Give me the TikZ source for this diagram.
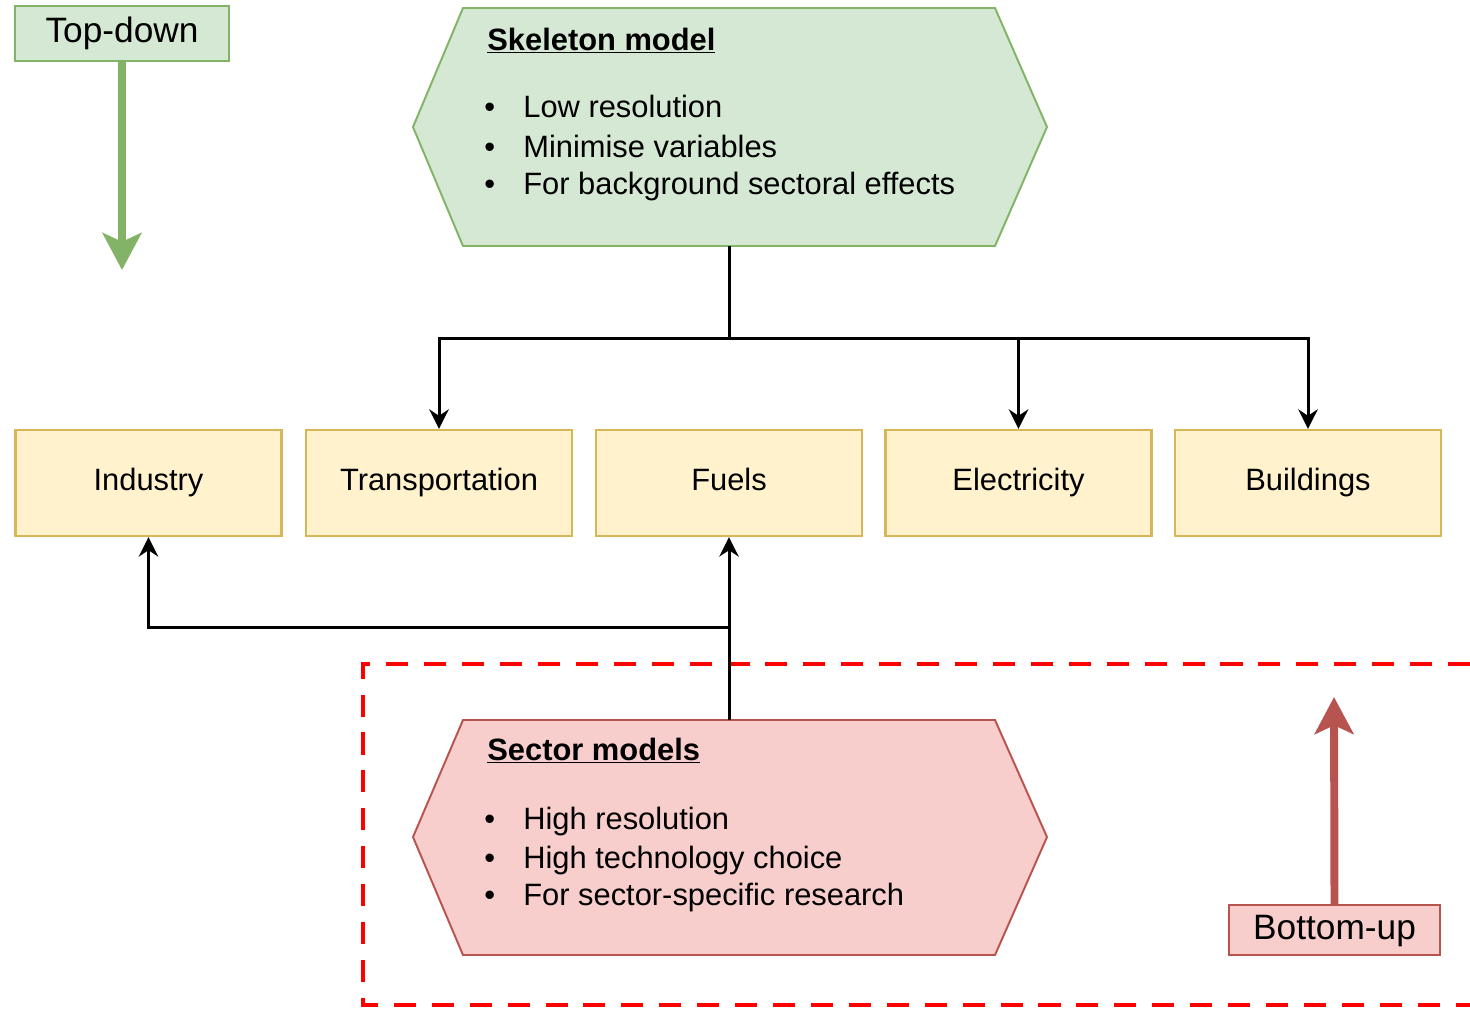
\documentclass[tikz,border=0pt]{standalone}
\usepackage{fontspec}
\setmainfont{Liberation Sans}
\usetikzlibrary{arrows.meta}
\definecolor{gfill}{HTML}{D5E8D4}
\definecolor{gstroke}{HTML}{82B366}
\definecolor{yfill}{HTML}{FFF2CC}
\definecolor{ystroke}{HTML}{D6B656}
\definecolor{rfill}{HTML}{F8CECC}
\definecolor{rstroke}{HTML}{B85450}
\definecolor{dashred}{HTML}{FF0000}
\begin{document}
\begin{tikzpicture}[x=0.567pt,y=-0.567pt,
  sector/.style={draw=ystroke,fill=yfill,line width=1.3pt,minimum width=150.8pt,minimum height=60.1pt,inner sep=0pt,text height=12.6pt,text depth=3.6pt,font=\fontsize{17.5}{21}\selectfont},
  tag/.style={line width=1.1pt,inner sep=0pt,text height=14.4pt,text depth=4.2pt,font=\fontsize{20}{24}\selectfont},
  hexg/.style={draw=gstroke,fill=gfill,line width=1.1pt},
  hexr/.style={draw=rstroke,fill=rfill,line width=1.1pt},
  txt/.style={anchor=base west,inner sep=0pt,font=\fontsize{17.5}{21}\selectfont},
  hdr/.style={anchor=base west,inner sep=0pt,font=\fontsize{17.5}{21}\selectfont\bfseries},
  conn/.style={draw=black,line width=1.7pt},
  carrow/.style={conn,-{Stealth[length=11pt,width=11pt]}},
  bigarrow/.style={line width=4.5pt,-{Stealth[length=21pt,width=22pt,inset=5pt]}},
  region/.style={draw=dashred,line width=2.3pt,dash pattern=on 12.5pt off 9pt}
]
\useasboundingbox (0,0) rectangle (1470,1009);

% Top-down label and arrow
\node[tag,draw=gstroke,fill=gfill,minimum width=121.3pt,minimum height=31.2pt] (td) at (122,33.5) {Top-down};
\coordinate (tdend) at (122,270);
\draw[bigarrow,draw=gstroke,fill=gstroke] (td.south) -- (tdend);

% Skeleton model hexagon
\draw[hexg] (463,8) -- (995,8) -- (1047,127) -- (995,246) -- (463,246) -- (413,127) -- cycle;
\coordinate (skb) at (729,246);
\node[hdr] (skh) at (487,50) {\underline{Skeleton model}};
\node[txt] (skb1) at (484,117) {•};
\node[txt] (sk1) at (523,117) {Low resolution};
\node[txt] (skb2) at (484,157) {•};
\node[txt] (sk2) at (523,157) {Minimise variables};
\node[txt] (skb3) at (484,194) {•};
\node[txt] (sk3) at (523,194) {For background sectoral effects};

% Sector boxes
\node[sector] (ind) at (148.5,483) {Industry};
\node[sector] (tra) at (439,483) {Transportation};
\node[sector] (fue) at (729,483) {Fuels};
\node[sector] (ele) at (1018.5,483) {Electricity};
\node[sector] (bui) at (1308,483) {Buildings};

% Skeleton connectors
\coordinate (j1) at (729,338);
\draw[conn] (skb) -- (j1);
\draw[carrow] (j1) -| (tra.north);
\draw[carrow] (j1) -| (ele.north);
\draw[carrow] (j1) -| (bui.north);

% Red dashed region
\draw[region] (1470,664) -- (363,664) -- (363,1005) -- (1470,1005);

% Sector models hexagon
\draw[hexr] (463,720) -- (995,720) -- (1047,837) -- (995,955) -- (463,955) -- (413,837) -- cycle;
\coordinate (smt) at (729,720);
\node[hdr] (smh) at (487,760) {\underline{Sector models}};
\node[txt] (smb1) at (484,829) {•};
\node[txt] (sm1) at (523,829) {High resolution};
\node[txt] (smb2) at (484,868) {•};
\node[txt] (sm2) at (523,868) {High technology choice};
\node[txt] (smb3) at (484,905) {•};
\node[txt] (sm3) at (523,905) {For sector-specific research};

% Sector model connectors
\coordinate (j2) at (729,627);
\draw[carrow] (smt) -- (fue.south);
\draw[carrow] (j2) -| (ind.south);

% Bottom-up label and arrow
\node[tag,draw=rstroke,fill=rfill,minimum width=119.6pt,minimum height=28.4pt] (bu) at (1334.5,930) {Bottom-up};
\coordinate (buend) at (1334,697);
\draw[bigarrow,draw=rstroke,fill=rstroke] (bu.north) -- (buend);
\end{tikzpicture}
\end{document}
